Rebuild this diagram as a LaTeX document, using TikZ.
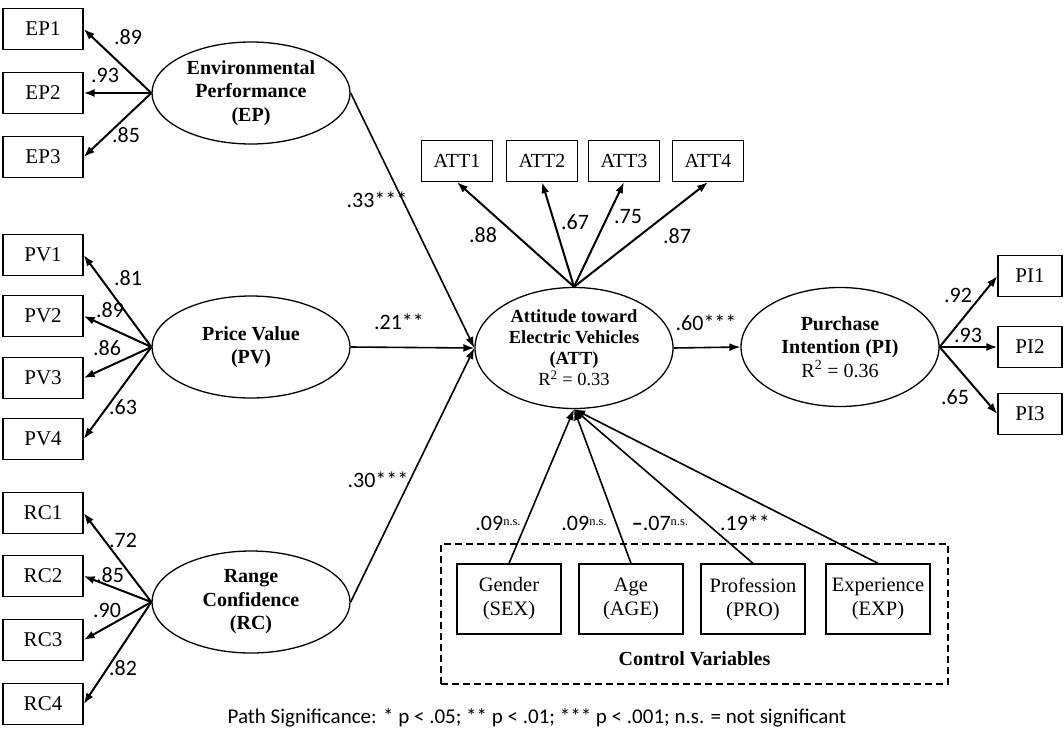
\documentclass[tikz,border=0pt]{standalone}
\usepackage{fontspec}
\setmainfont{Liberation Serif}
\newfontfamily\labfont{Carlito}
\usetikzlibrary{shapes.geometric,arrows.meta}
\begin{document}
\begin{tikzpicture}[x=1pt,y=-1pt,
 ind/.style={draw, line width=1.3pt, minimum width=80pt, minimum height=41pt, inner sep=0pt, font=\fontsize{21}{23}\selectfont},
 attbox/.style={ind, minimum width=71pt, font=\fontsize{20}{22}\selectfont},
 pibox/.style={ind, minimum width=64pt},
 ctl/.style={draw, line width=1.3pt, minimum width=104pt, minimum height=70pt, inner sep=0pt, align=center, font=\fontsize{20.5}{24}\selectfont},
 lat/.style={ellipse, draw, line width=1.3pt, minimum width=198pt, minimum height=102pt, inner sep=0pt, align=center, font=\fontsize{20}{23.5}\selectfont\bfseries},
 load/.style={-{Latex[length=11pt,width=8pt]}, line width=2pt},
 pth/.style={-{Latex[length=11pt,width=8pt]}, line width=1.6pt},
 lbl/.style={font=\fontsize{22}{24}\selectfont\labfont, inner sep=0pt},
]
\useasboundingbox (0,0) rectangle (1064,737);
% latent variables
\node[lat] (ep) at (251,93) {Environmental\\Performance\\(EP)};
\node[lat] (pv) at (251,347) {Price Value\\(PV)};
\node[lat] (rc) at (251,602) {Range\\Confidence\\(RC)};
\node[lat, minimum height=121pt, font=\fontsize{18.5}{21}\selectfont\bfseries] (att) at (574,348) {Attitude toward\\Electric Vehicles\\(ATT)\\\mdseries R\textsuperscript{2} = 0.33};
\node[lat, minimum height=119pt] (pi) at (840,347) {Purchase\\Intention (PI)\\\mdseries R\textsuperscript{2} = 0.36};
% indicators
\node[ind] (ep1) at (43,29) {EP1};
\node[ind] (ep2) at (43,93) {EP2};
\node[ind] (ep3) at (43,157) {EP3};
\node[ind] (pv1) at (43,255) {PV1};
\node[ind] (pv2) at (43,316) {PV2};
\node[ind] (pv3) at (43,378) {PV3};
\node[ind] (pv4) at (43,439) {PV4};
\node[ind] (rc1) at (43,513) {RC1};
\node[ind] (rc2) at (43,576) {RC2};
\node[ind] (rc3) at (43,640) {RC3};
\node[ind] (rc4) at (43,704) {RC4};
\node[attbox] (att1) at (457,161) {ATT1};
\node[attbox] (att2) at (542,161) {ATT2};
\node[attbox] (att3) at (624,161) {ATT3};
\node[attbox] (att4) at (708,161) {ATT4};
\node[pibox] (pi1) at (1030,276) {PI1};
\node[pibox] (pi2) at (1030,347) {PI2};
\node[pibox] (pi3) at (1030,414) {PI3};
% control variables
\node[draw, dashed, dash pattern=on 7pt off 4pt, line width=1.3pt, minimum width=507pt, minimum height=140pt, inner sep=0pt] (cv) at (694.5,614) {};
\node[ctl] (sex) at (509,599) {Gender\\(SEX)};
\node[ctl] (age) at (631,599) {Age\\(AGE)};
\node[ctl] (pro) at (753,599) {Profession\\(PRO)};
\node[ctl] (exp) at (878,599) {Experience\\(EXP)};
\node[font=\fontsize{20}{22}\selectfont\bfseries] (cvl) at (694.5,659) {Control Variables};
% loadings
\foreach \t in {ep1,ep2,ep3} \draw[load] (ep.west) -- (\t.east);
\foreach \t in {pv1,pv2,pv3,pv4} \draw[load] (pv.west) -- (\t.east);
\foreach \t in {rc1,rc2,rc3,rc4} \draw[load] (rc.west) -- (\t.east);
\foreach \t in {att1,att2,att3,att4} \draw[load] (att.north) -- (\t.south);
\foreach \t in {pi1,pi2,pi3} \draw[load] (pi.east) -- (\t.west);
% structural paths
\draw[pth] (ep.east) -- (att.west);
\draw[pth] (pv.east) -- (att.west);
\draw[pth] (rc.east) -- (att.west);
\draw[pth] (att.east) -- (pi.west);
\foreach \t in {sex,age,pro,exp} \draw[pth] (\t.north) -- (att.south);
% loading labels
\node[lbl] (a1) at (128,37) {.89};
\node[lbl] (a2) at (105,75) {.93};
\node[lbl] (a3) at (126,135) {.85};
\node[lbl] (b1) at (128,278) {.81};
\node[lbl] (b2) at (110,310) {.89};
\node[lbl] (b3) at (107,348) {.86};
\node[lbl] (b4) at (123,407) {.63};
\node[lbl] (c1) at (123,540) {.72};
\node[lbl] (c2) at (110,575) {.85};
\node[lbl] (c3) at (107,610) {.90};
\node[lbl] (c4) at (123,668) {.82};
\node[lbl] (d1) at (483,235) {.88};
\node[lbl] (d2) at (575,222) {.67};
\node[lbl] (d3) at (628,217) {.75};
\node[lbl] (d4) at (677,236) {.87};
\node[lbl] (e1) at (958,295) {.92};
\node[lbl] (e2) at (968,335) {.93};
\node[lbl] (e3) at (955,397) {.65};
% path labels
\node[lbl] (p1) at (377,200) {.33***};
\node[lbl] (p2) at (399,322) {.21**};
\node[lbl] (p3) at (378,480) {.30***};
\node[lbl] (p4) at (706,323) {.60***};
\node[lbl] (s1) at (498,523) {.09{\rmfamily\fontsize{12.5}{12}\selectfont\raisebox{4.5pt}{n.s.}}};
\node[lbl] (s2) at (584,523) {.09{\rmfamily\fontsize{12.5}{12}\selectfont\raisebox{4.5pt}{n.s.}}};
\node[lbl] (s3) at (660,523) {\textbf{–}.07{\rmfamily\fontsize{12.5}{12}\selectfont\raisebox{4.5pt}{n.s.}}};
\node[lbl] (s4) at (745,523) {.19**};
% footer
\node[font=\fontsize{21}{23}\selectfont\labfont, inner sep=0pt] (foot) at (537,718) {Path Significance: * p < .05; ** p < .01; *** p < .001; n.s. = not significant};
\end{tikzpicture}
\end{document}
